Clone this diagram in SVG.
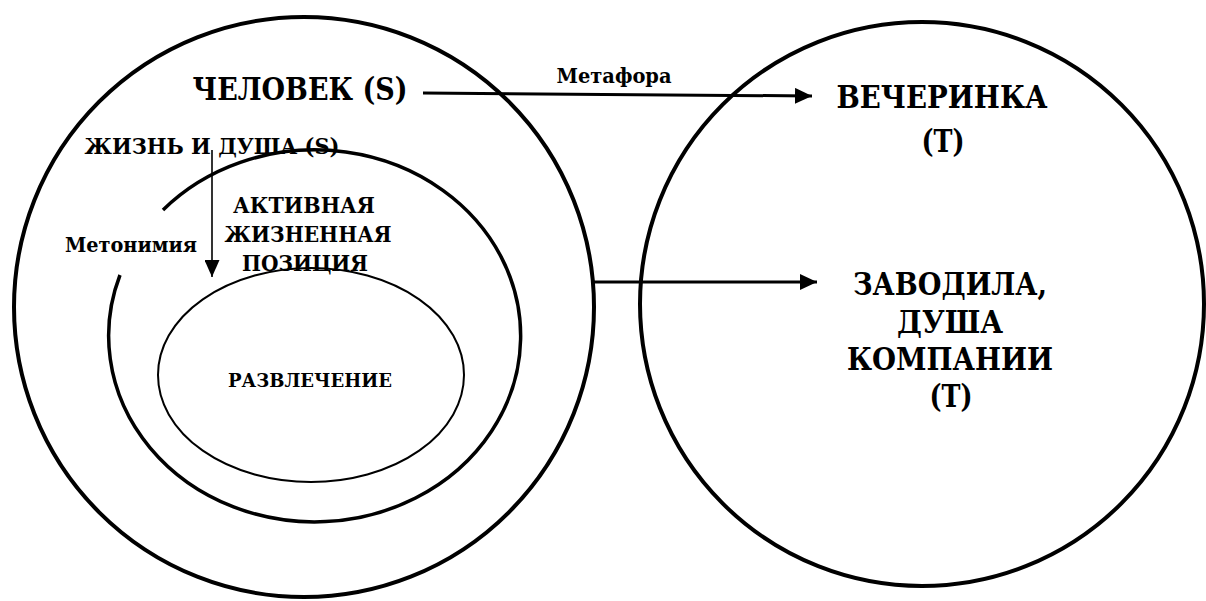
<svg xmlns="http://www.w3.org/2000/svg" width="1206" height="601" viewBox="0 0 1206 601">
  <style>
    text { font-family: 'DejaVu Serif Condensed', 'DejaVu Serif', serif; font-weight: bold; fill: #000; }
    .big { font-size: 31px; }
    .mid { font-size: 23px; }
    .sm { font-size: 21px; }
    .ring { fill: none; stroke: #000; }
    .line { fill: none; stroke: #000; }
  </style>
  <defs>
    <marker id="head-lg" viewBox="0 0 10 10" refX="10" refY="5" markerWidth="17" markerHeight="16" markerUnits="userSpaceOnUse" orient="auto" preserveAspectRatio="none">
      <path d="M0,0 L10,5 L0,10 z" fill="#000"/>
    </marker>
    <marker id="head-sm" viewBox="0 0 10 10" refX="10" refY="5" markerWidth="17" markerHeight="15" markerUnits="userSpaceOnUse" orient="auto" preserveAspectRatio="none">
      <path d="M0,0 L10,5 L0,10 z" fill="#000"/>
    </marker>
  </defs>
  <rect width="1206" height="601" fill="#fff"/>

  <!-- source domain: person -->
  <g id="node-person">
    <circle class="ring" cx="304" cy="307" r="290" stroke-width="4"/>
    <text class="big" x="300" y="100" text-anchor="middle" textLength="215" lengthAdjust="spacingAndGlyphs">ЧЕЛОВЕК (S)</text>
  </g>

  <!-- life and soul: open ring -->
  <g id="node-life">
    <path class="ring" d="M163,210 A206,186 0 1 1 120,275" stroke-width="3.5"/>
    <text class="mid" font-size="24" x="212" y="154" text-anchor="middle" textLength="255" lengthAdjust="spacingAndGlyphs">ЖИЗНЬ И ДУША (S)</text>
    <text class="mid" x="304" y="213" text-anchor="middle" textLength="142" lengthAdjust="spacingAndGlyphs">АКТИВНАЯ</text>
    <text class="mid" x="308" y="242" text-anchor="middle" textLength="167" lengthAdjust="spacingAndGlyphs">ЖИЗНЕННАЯ</text>
    <text class="mid" x="305" y="271" text-anchor="middle" textLength="126" lengthAdjust="spacingAndGlyphs">ПОЗИЦИЯ</text>
  </g>

  <!-- entertainment -->
  <g id="node-fun">
    <ellipse class="ring" cx="311" cy="375" rx="153" ry="107" stroke-width="2"/>
    <text font-size="18" x="310" y="387" text-anchor="middle" textLength="164" lengthAdjust="spacingAndGlyphs">РАЗВЛЕЧЕНИЕ</text>
  </g>

  <!-- target domain -->
  <g id="node-target">
    <circle class="ring" cx="922" cy="304" r="282" stroke-width="4"/>
    <text class="big" x="942" y="108" text-anchor="middle" textLength="211" lengthAdjust="spacingAndGlyphs">ВЕЧЕРИНКА</text>
    <text class="big" x="943" y="152" text-anchor="middle" textLength="43" lengthAdjust="spacingAndGlyphs">(Т)</text>
    <text class="big" x="950" y="295" text-anchor="middle" textLength="194" lengthAdjust="spacingAndGlyphs">ЗАВОДИЛА,</text>
    <text class="big" x="950" y="333" text-anchor="middle" textLength="106" lengthAdjust="spacingAndGlyphs">ДУША</text>
    <text class="big" x="950" y="370" text-anchor="middle" textLength="206" lengthAdjust="spacingAndGlyphs">КОМПАНИИ</text>
    <text class="big" x="951" y="407" text-anchor="middle" textLength="43" lengthAdjust="spacingAndGlyphs">(Т)</text>
  </g>

  <!-- connectors -->
  <g id="connectors">
    <line class="line" x1="423" y1="93" x2="812" y2="96" stroke-width="3" marker-end="url(#head-lg)"/>
    <text class="sm" x="614" y="83" text-anchor="middle" textLength="115" lengthAdjust="spacingAndGlyphs">Метафора</text>
    <line class="line" x1="592" y1="282" x2="817" y2="282" stroke-width="3" marker-end="url(#head-lg)"/>
    <line class="line" x1="212" y1="150" x2="212" y2="277" stroke-width="1.6" marker-end="url(#head-sm)"/>
    <text class="sm" x="131" y="252" text-anchor="middle" textLength="132" lengthAdjust="spacingAndGlyphs">Метонимия</text>
  </g>
</svg>
